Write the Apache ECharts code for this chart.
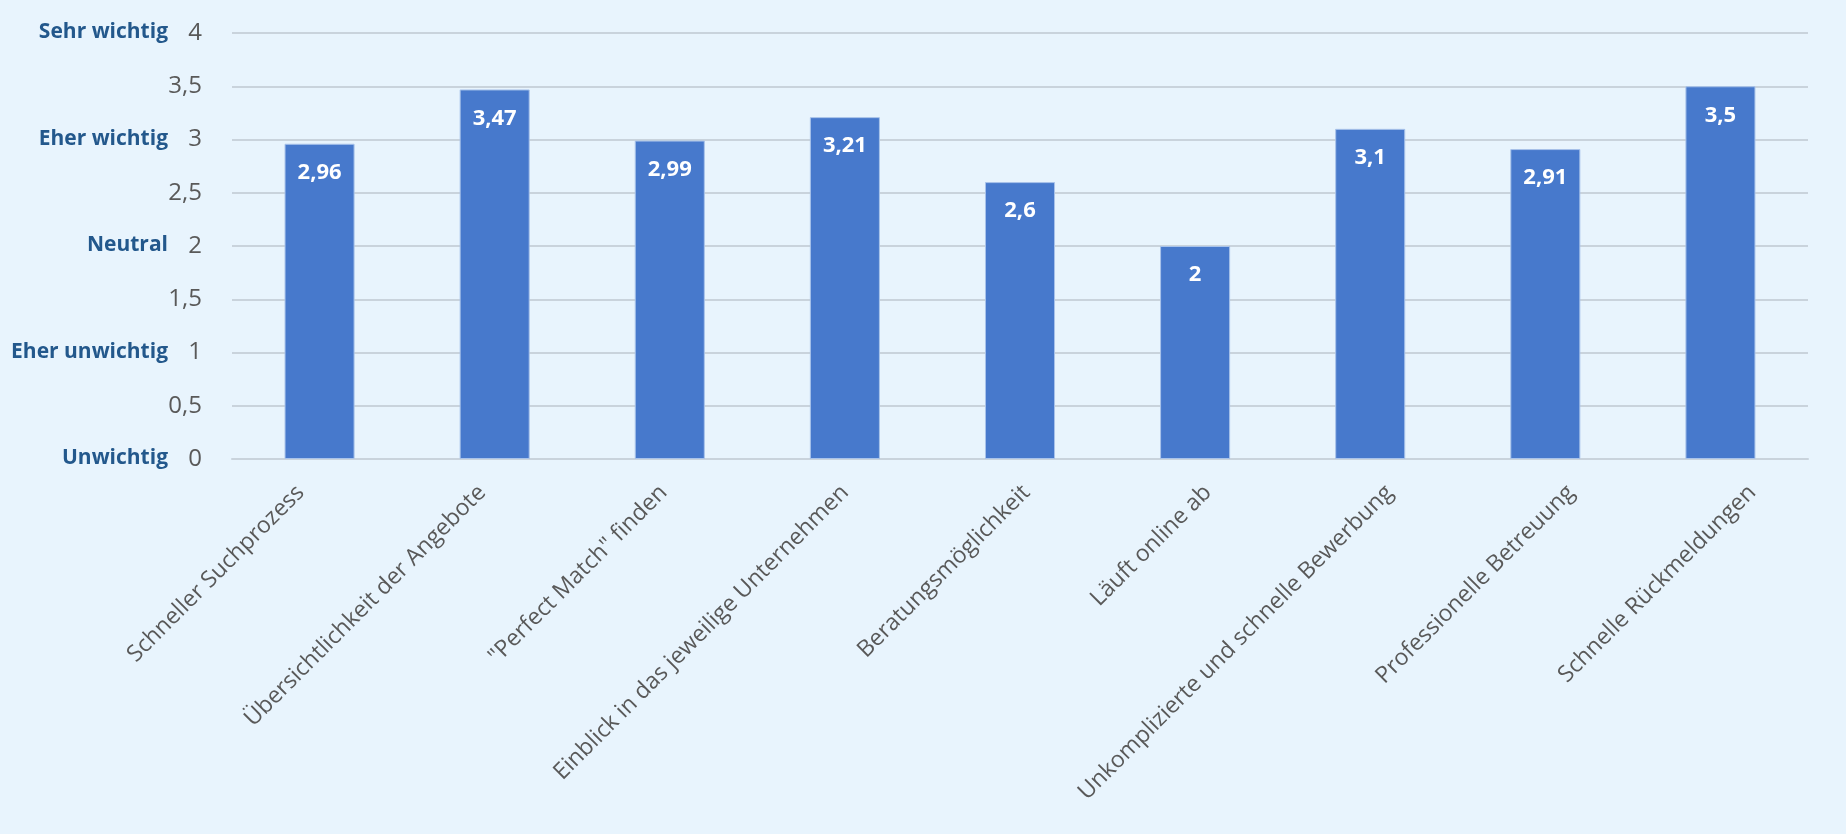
<!DOCTYPE html>
<html>
<head>
<meta charset="utf-8">
<script src="https://cdn.jsdelivr.net/npm/echarts@6/dist/echarts.min.js"></script>
<style>
    html, body { margin: 0; padding: 0; background: #e8f4fd; }
    #chart { width: 1846px; height: 834px; }
</style>
</head>
<body>
<div id="chart"></div>
<script>
// Kategorien (x-Achse)
const categories = [
    'Schneller Suchprozess',
    'Übersichtlichkeit der Angebote',
    '"Perfect Match" finden',
    'Einblick in das jeweilige Unternehmen',
    'Beratungsmöglichkeit',
    'Läuft online ab',
    'Unkomplizierte und schnelle Bewerbung',
    'Professionelle Betreuung',
    'Schnelle Rückmeldungen'
];
// Mittelwerte
const values = [2.96, 3.47, 2.99, 3.21, 2.6, 2, 3.1, 2.91, 3.5];
// Skala-Beschriftung (Wert -> Text)
const scaleValues = [0, 1, 2, 3, 4];
const scaleLabels = ['Unwichtig', 'Eher unwichtig', 'Neutral', 'Eher wichtig', 'Sehr wichtig'];

window.onload = function(){
    let chart = echarts.init(document.getElementById('chart'));

    function komma(v){
        return String(v).replace('.', ',');
    }

    let option = {
        backgroundColor: '#e8f4fd',
        textStyle: { fontFamily: 'Open Sans' },
        grid: [
            // Balken
            { left: 232, right: 38, top: 33, bottom: 375 },
            // Beschriftung x (etwas breiter verteilt wie im Original)
            { left: 210, right: 3, top: 33, bottom: 375 }
        ],
        xAxis: [
            {
                type: 'category',
                data: categories,
                gridIndex: 0,
                axisTick: { show: false },
                axisLine: { lineStyle: { color: '#c9d3dc', width: 2 } },
                axisLabel: { show: false }
            },
            {
                type: 'category',
                data: categories,
                gridIndex: 1,
                axisTick: { show: false },
                axisLine: { show: false },
                axisLabel: {
                    rotate: 45,
                    margin: 30,
                    interval: 0,
                    color: '#595959',
                    fontSize: 23,
                    fontFamily: 'Open Sans'
                }
            }
        ],
        yAxis: [
            {
                type: 'value',
                gridIndex: 0,
                min: 0,
                max: 4,
                interval: 0.5,
                axisLine: { show: false },
                axisTick: { show: false },
                splitLine: { lineStyle: { color: '#c9d3dc', width: 2 } },
                axisLabel: {
                    margin: 30,
                    color: '#595959',
                    fontSize: 24,
                    fontFamily: 'Open Sans',
                    formatter: function(v){ return komma(v); }
                }
            },
            {
                type: 'value',
                gridIndex: 0,
                position: 'left',
                offset: 56,
                min: 0,
                max: 4,
                interval: 1,
                axisLine: { show: false },
                axisTick: { show: false },
                splitLine: { show: false },
                axisLabel: {
                    margin: 8,
                    color: '#23588c',
                    fontSize: 21,
                    fontWeight: 'bold',
                    fontFamily: 'Open Sans',
                    verticalAlign: 'bottom',
                    padding: [0, 0, -10, 0],
                    formatter: function(v){
                        let i = scaleValues.indexOf(v);
                        return i >= 0 ? scaleLabels[i] : '';
                    }
                }
            },
            {
                type: 'value',
                gridIndex: 1,
                show: false,
                min: 0,
                max: 4
            }
        ],
        series: [{
            type: 'bar',
            xAxisIndex: 0,
            yAxisIndex: 0,
            data: values,
            barWidth: '40%',
            itemStyle: {
                color: '#4779cc',
                borderColor: '#a9c3ea',
                borderWidth: 1
            },
            label: {
                show: true,
                position: 'insideTop',
                distance: 18,
                color: '#ffffff',
                fontSize: 22,
                fontWeight: 'bold',
                fontFamily: 'Open Sans',
                formatter: function(p){ return komma(p.value); }
            }
        }]
    };

    chart.setOption(option);

    window.onresize = function(){
        chart.resize();
    }
}
</script>
</body>
</html>
